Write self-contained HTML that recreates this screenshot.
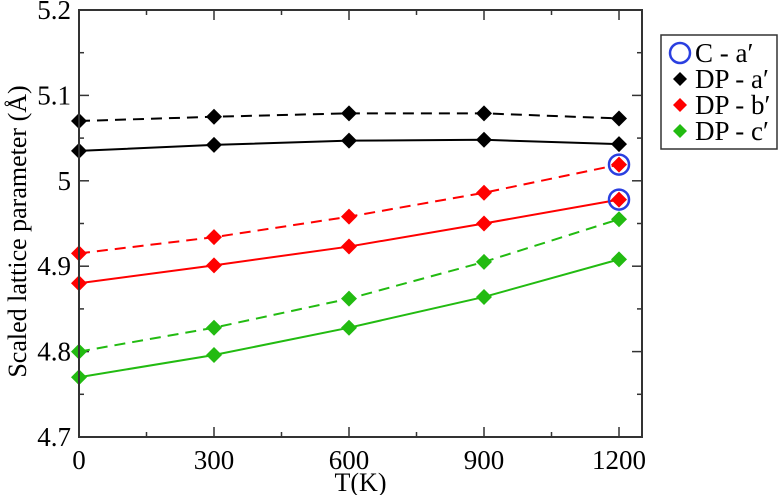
<!DOCTYPE html>
<html><head><meta charset="utf-8"><style>
html,body{margin:0;padding:0;background:#fff;}
svg{display:block;}
text{font-family:"Liberation Serif","DejaVu Serif",serif;}
</style></head><body>
<svg id="chart" width="780" height="495" font-family="Liberation Serif, serif">
<g id="plot"></g>
</svg>
<script>
const temps = [0, 300, 600, 900, 1200];
const dpA_dash = [5.070, 5.075, 5.079, 5.079, 5.073];
const dpA_solid = [5.035, 5.042, 5.047, 5.048, 5.043];
const dpB_dash = [4.915, 4.934, 4.958, 4.986, 5.019];
const dpB_solid = [4.880, 4.901, 4.923, 4.950, 4.978];
const dpC_dash = [4.800, 4.828, 4.862, 4.905, 4.955];
const dpC_solid = [4.770, 4.796, 4.828, 4.864, 4.908];
const cA_T = [1200, 1200];
const cA_vals = [5.019, 4.978];
const xTicks = [0, 300, 600, 900, 1200];
const yTicks = [4.7, 4.8, 4.9, 5.0, 5.1, 5.2];
const yTickLabels = ["4.7", "4.8", "4.9", "5", "5.1", "5.2"];

const L=79,R=642,T=10,B=437;
const X0=0,X1=1251.1,Y0=4.7,Y1=5.2;
const xs=v=>L+(v-X0)/(X1-X0)*(R-L);
const ys=v=>B-(v-Y0)/(Y1-Y0)*(B-T);
const NS="http://www.w3.org/2000/svg";
const FONT='Liberation Serif, serif';
const svg=document.getElementById('chart');
function mk(tag,attrs,parent){const e=document.createElementNS(NS,tag);for(const k in attrs)e.setAttribute(k,attrs[k]);if(tag==='text')e.setAttribute('font-family',FONT);(parent||svg).appendChild(e);return e;}

for(let v=0;v<=1200;v+=150){
  const major=v%300===0, len=major?10:5;
  const t1=mk('line',{x1:xs(v),x2:xs(v),y1:B,y2:B-len,stroke:'#333','stroke-width':1.5});
  
  
  const t2=mk('line',{x1:xs(v),x2:xs(v),y1:T,y2:T+len,stroke:'#333','stroke-width':1.5});
  
  
}
for(let i=0;i<=10;i++){
  const v=4.7+i*0.05, major=i%2===0, len=major?10:5;
  const t1=mk('line',{x1:L,x2:L+len,y1:ys(v),y2:ys(v),stroke:'#333','stroke-width':1.5});
  
  
  const t2=mk('line',{x1:R,x2:R-len,y1:ys(v),y2:ys(v),stroke:'#333','stroke-width':1.5});
  
  
}
xTicks.forEach(v=>{
  const t=mk('text',{x:xs(v),y:469,'font-size':27,'text-anchor':'middle'});
  t.textContent=v;
  
  
});
yTicks.forEach((v,i)=>{
  const t=mk('text',{x:71,y:ys(v)+9,'font-size':27,'text-anchor':'end'});
  t.textContent=yTickLabels[i];
  
  
});

function series(vals,color,dash,name){
  const pts=temps.map((t,i)=>xs(t)+','+ys(vals[i])).join(' ');
  const pl=mk('polyline',{points:pts,fill:'none',stroke:color,'stroke-width':2,'stroke-dasharray':dash?'11,7':'none'});
  
  
  temps.forEach((t,i)=>{
    const x=xs(t),y=ys(vals[i]),s=8;
    const d=mk('polygon',{points:`${x},${y-s} ${x+s},${y} ${x},${y+s} ${x-s},${y}`,fill:color});
    
    
  });
}
series(dpA_dash,'#000',true,'dp-a-dashed');
series(dpA_solid,'#000',false,'dp-a-solid');
series(dpB_dash,'#f00',true,'dp-b-dashed');
series(dpB_solid,'#f00',false,'dp-b-solid');
series(dpC_dash,'#22bb11',true,'dp-c-dashed');
series(dpC_solid,'#22bb11',false,'dp-c-solid');
cA_vals.forEach((v,i)=>{
  const c=mk('circle',{cx:xs(cA_T[i]),cy:ys(v),r:10,fill:'none',stroke:'#2a3fe0','stroke-width':2.5});
  
  
});

const frame=mk('rect',{x:L,y:T,width:R-L,height:B-T,fill:'none',stroke:'#333','stroke-width':2});



const xt=mk('text',{x:(L+R)/2,y:491,'font-size':26,'text-anchor':'middle'});
xt.textContent='T(K)';


const yt=mk('text',{x:0,y:0,'font-size':26,'text-anchor':'middle',transform:`translate(26,${(T+B)/2+8}) rotate(-90)`});
yt.textContent='Scaled lattice parameter (Å)';



const lg=mk('g',{});


const lr=mk('rect',{x:661,y:35,width:116,height:114,fill:'#fff',stroke:'#333','stroke-width':1.5},lg);


const entries=[['C - a′','#2a3fe0','circle'],['DP - a′','#000','d'],['DP - b′','#f00','d'],['DP - c′','#22bb11','d']];
entries.forEach((e,i)=>{
  const y=53+i*26, g=mk('g',{},lg);
  
  
  if(e[2]==='circle') mk('circle',{cx:680,cy:y,r:10,fill:'none',stroke:e[1],'stroke-width':2.5},g);
  else mk('polygon',{points:`680,${y-7} 687,${y} 680,${y+7} 673,${y}`,fill:e[1]},g);
  const t=mk('text',{x:695,y:y+9,'font-size':27},g);
  t.textContent=e[0];
});
</script>
</body></html>
